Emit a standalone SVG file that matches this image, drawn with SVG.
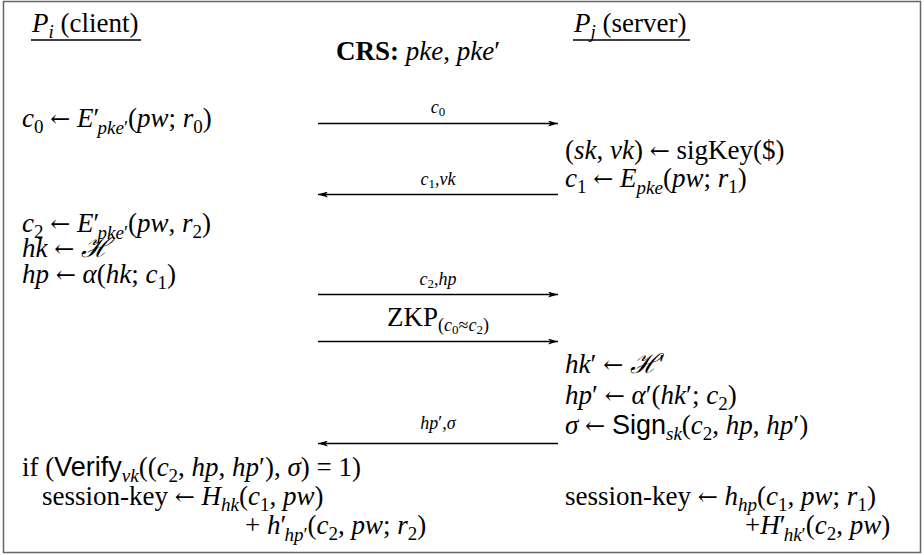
<svg xmlns="http://www.w3.org/2000/svg" width="924" height="555" viewBox="0 0 924 555">
<style>
.t{font-size:27px;fill:#000}
.i{font-style:italic}
.sb{font-size:19px}
.sm{font-size:18px}
.ss{font-size:13px}
.b{font-weight:bold}
.ar{font-size:24px;font-style:normal}
.lbl{text-anchor:middle}
.frame{fill:#fff;stroke:#666;stroke-width:1.5}
.ul{stroke:#000;stroke-width:1.3}
#connectors line{stroke:#000;stroke-width:1.3}
</style>
<defs>
<marker id="ah" viewBox="0 0 10 6" refX="10" refY="3" markerWidth="10" markerHeight="6" markerUnits="userSpaceOnUse" orient="auto"><path d="M0,0 L10,3 L0,6 L2.5,3 Z" fill="#000"/></marker>
</defs>
<rect class="frame" x="3.5" y="1.5" width="917" height="551"/>

<g id="client-header">
<text class="t" font-family="Liberation Serif" x="32" y="32"><tspan class="i">P</tspan><tspan class="sb i" dy="6">i</tspan><tspan dy="-6"> (client)</tspan></text>
<line class="ul" x1="31" y1="40" x2="141" y2="40"/>
</g>
<g id="server-header">
<text class="t" font-family="Liberation Serif" x="574" y="32"><tspan class="i">P</tspan><tspan class="sb i" dy="6">j</tspan><tspan dy="-6"> (server)</tspan></text>
<line class="ul" x1="573" y1="40" x2="690" y2="40"/>
</g>
<g id="crs">
<text class="t" font-family="Liberation Serif" x="336" y="60"><tspan class="b">CRS:</tspan> <tspan class="i">pke</tspan>, <tspan class="i">pke</tspan>′</text>
</g>

<g id="client-c0">
<text class="t" font-family="Liberation Serif" x="22" y="127"><tspan class="i">c</tspan><tspan class="sb" dy="6">0</tspan><tspan dy="-6"> </tspan><tspan class="ar" font-family="DejaVu Serif">←</tspan> <tspan class="i">E</tspan>′<tspan class="sb i" dy="7" dx="-2">pke</tspan><tspan class="sb">′</tspan><tspan dy="-7">(</tspan><tspan class="i">pw</tspan>; <tspan class="i">r</tspan><tspan class="sb" dy="6">0</tspan><tspan dy="-6">)</tspan></text>
</g>
<g id="server-sigkey">
<text class="t" font-family="Liberation Serif" x="565" y="159">(<tspan class="i">sk</tspan>, <tspan class="i">vk</tspan>) <tspan class="ar" font-family="DejaVu Serif">←</tspan> sigKey($)</text>
</g>
<g id="server-c1">
<text class="t" font-family="Liberation Serif" x="565" y="187"><tspan class="i">c</tspan><tspan class="sb" dy="6">1</tspan><tspan dy="-6"> </tspan><tspan class="ar" font-family="DejaVu Serif">←</tspan> <tspan class="i">E</tspan><tspan class="sb i" dy="7">pke</tspan><tspan dy="-7">(</tspan><tspan class="i">pw</tspan>; <tspan class="i">r</tspan><tspan class="sb" dy="6">1</tspan><tspan dy="-6">)</tspan></text>
</g>
<g id="client-c2">
<text class="t" font-family="Liberation Serif" x="22" y="232"><tspan class="i">c</tspan><tspan class="sb" dy="6">2</tspan><tspan dy="-6"> </tspan><tspan class="ar" font-family="DejaVu Serif">←</tspan> <tspan class="i">E</tspan>′<tspan class="sb i" dy="7" dx="-2">pke</tspan><tspan class="sb">′</tspan><tspan dy="-7">(</tspan><tspan class="i">pw</tspan>, <tspan class="i">r</tspan><tspan class="sb" dy="6">2</tspan><tspan dy="-6">)</tspan></text>
</g>
<g id="client-hk">
<text class="t" font-family="Liberation Serif" x="22" y="257"><tspan class="i">hk</tspan> <tspan class="ar" font-family="DejaVu Serif">←</tspan> <tspan class="i" font-family="DejaVu Serif">ℋ</tspan></text>
</g>
<g id="client-hp">
<text class="t" font-family="Liberation Serif" x="22" y="283"><tspan class="i">hp</tspan> <tspan class="ar" font-family="DejaVu Serif">←</tspan> <tspan class="i">α</tspan>(<tspan class="i">hk</tspan>; <tspan class="i">c</tspan><tspan class="sb" dy="6">1</tspan><tspan dy="-6">)</tspan></text>
</g>
<g id="server-hk">
<text class="t" font-family="Liberation Serif" x="565" y="373"><tspan class="i">hk</tspan>′ <tspan class="ar" font-family="DejaVu Serif">←</tspan> <tspan class="i" font-family="DejaVu Serif">ℋ</tspan>′</text>
</g>
<g id="server-hp">
<text class="t" font-family="Liberation Serif" x="565" y="404"><tspan class="i">hp</tspan>′ <tspan class="ar" font-family="DejaVu Serif">←</tspan> <tspan class="i">α</tspan>′(<tspan class="i">hk</tspan>′; <tspan class="i">c</tspan><tspan class="sb" dy="6">2</tspan><tspan dy="-6">)</tspan></text>
</g>
<g id="server-sign">
<text class="t" font-family="Liberation Serif" x="565" y="434"><tspan class="i">σ</tspan> <tspan class="ar" font-family="DejaVu Serif">←</tspan> <tspan font-family="Liberation Sans">Sign</tspan><tspan class="sb i" dy="6">sk</tspan><tspan dy="-6">(</tspan><tspan class="i">c</tspan><tspan class="sb" dy="6">2</tspan><tspan dy="-6">, </tspan><tspan class="i">hp</tspan>, <tspan class="i">hp</tspan>′)</text>
</g>
<g id="client-verify">
<text class="t" font-family="Liberation Serif" x="22" y="476">if (<tspan font-family="Liberation Sans">Verify</tspan><tspan class="sb i" dy="6">vk</tspan><tspan dy="-6">((</tspan><tspan class="i">c</tspan><tspan class="sb" dy="6">2</tspan><tspan dy="-6">, </tspan><tspan class="i">hp</tspan>, <tspan class="i">hp</tspan>′), <tspan class="i">σ</tspan>) = 1)</text>
</g>
<g id="client-key">
<text class="t" font-family="Liberation Serif" x="42" y="505">session-key <tspan class="ar" font-family="DejaVu Serif">←</tspan> <tspan class="i">H</tspan><tspan class="sb i" dy="6">hk</tspan><tspan dy="-6">(</tspan><tspan class="i">c</tspan><tspan class="sb" dy="6">1</tspan><tspan dy="-6">, </tspan><tspan class="i">pw</tspan>)</text>
<text class="t" font-family="Liberation Serif" x="245" y="534">+ <tspan class="i">h</tspan>′<tspan class="sb i" dy="7" dx="-2">hp</tspan><tspan class="sb">′</tspan><tspan dy="-7">(</tspan><tspan class="i">c</tspan><tspan class="sb" dy="6">2</tspan><tspan dy="-6">, </tspan><tspan class="i">pw</tspan>; <tspan class="i">r</tspan><tspan class="sb" dy="6">2</tspan><tspan dy="-6">)</tspan></text>
</g>
<g id="server-key">
<text class="t" font-family="Liberation Serif" x="565" y="505">session-key <tspan class="ar" font-family="DejaVu Serif">←</tspan> <tspan class="i">h</tspan><tspan class="sb i" dy="6">hp</tspan><tspan dy="-6">(</tspan><tspan class="i">c</tspan><tspan class="sb" dy="6">1</tspan><tspan dy="-6">, </tspan><tspan class="i">pw</tspan>; <tspan class="i">r</tspan><tspan class="sb" dy="6">1</tspan><tspan dy="-6">)</tspan></text>
<text class="t" font-family="Liberation Serif" x="745" y="534">+<tspan class="i">H</tspan>′<tspan class="sb i" dy="7" dx="-2">hk</tspan><tspan class="sb">′</tspan><tspan dy="-7">(</tspan><tspan class="i">c</tspan><tspan class="sb" dy="6">2</tspan><tspan dy="-6">, </tspan><tspan class="i">pw</tspan>)</text>
</g>

<g id="connectors">
<line x1="318" y1="123.5" x2="558" y2="123.5" marker-end="url(#ah)"/>
<text class="t lbl" font-family="Liberation Serif" x="438" y="113"><tspan class="sm i">c</tspan><tspan class="ss" dy="3">0</tspan></text>
<line x1="558" y1="194.5" x2="318" y2="194.5" marker-end="url(#ah)"/>
<text class="t lbl" font-family="Liberation Serif" x="438" y="185"><tspan class="sm i">c</tspan><tspan class="ss" dy="3">1</tspan><tspan class="sm" dy="-3">,</tspan><tspan class="sm i">vk</tspan></text>
<line x1="318" y1="294.5" x2="558" y2="294.5" marker-end="url(#ah)"/>
<text class="t lbl" font-family="Liberation Serif" x="438" y="285"><tspan class="sm i">c</tspan><tspan class="ss" dy="3">2</tspan><tspan class="sm" dy="-3">,</tspan><tspan class="sm i">hp</tspan></text>
<line x1="318" y1="341.5" x2="558" y2="341.5" marker-end="url(#ah)"/>
<text class="t lbl" font-family="Liberation Serif" x="438" y="326">ZKP<tspan class="sm" dy="5">(</tspan><tspan class="sm i">c</tspan><tspan class="ss" dy="3">0</tspan><tspan class="sm" dy="-3">≈</tspan><tspan class="sm i">c</tspan><tspan class="ss" dy="3">2</tspan><tspan class="sm" dy="-3">)</tspan></text>
<line x1="558" y1="443.5" x2="318" y2="443.5" marker-end="url(#ah)"/>
<text class="t lbl" font-family="Liberation Serif" x="438" y="429"><tspan class="sm i">hp</tspan><tspan class="sm">′,</tspan><tspan class="sm i">σ</tspan></text>
</g>
</svg>
